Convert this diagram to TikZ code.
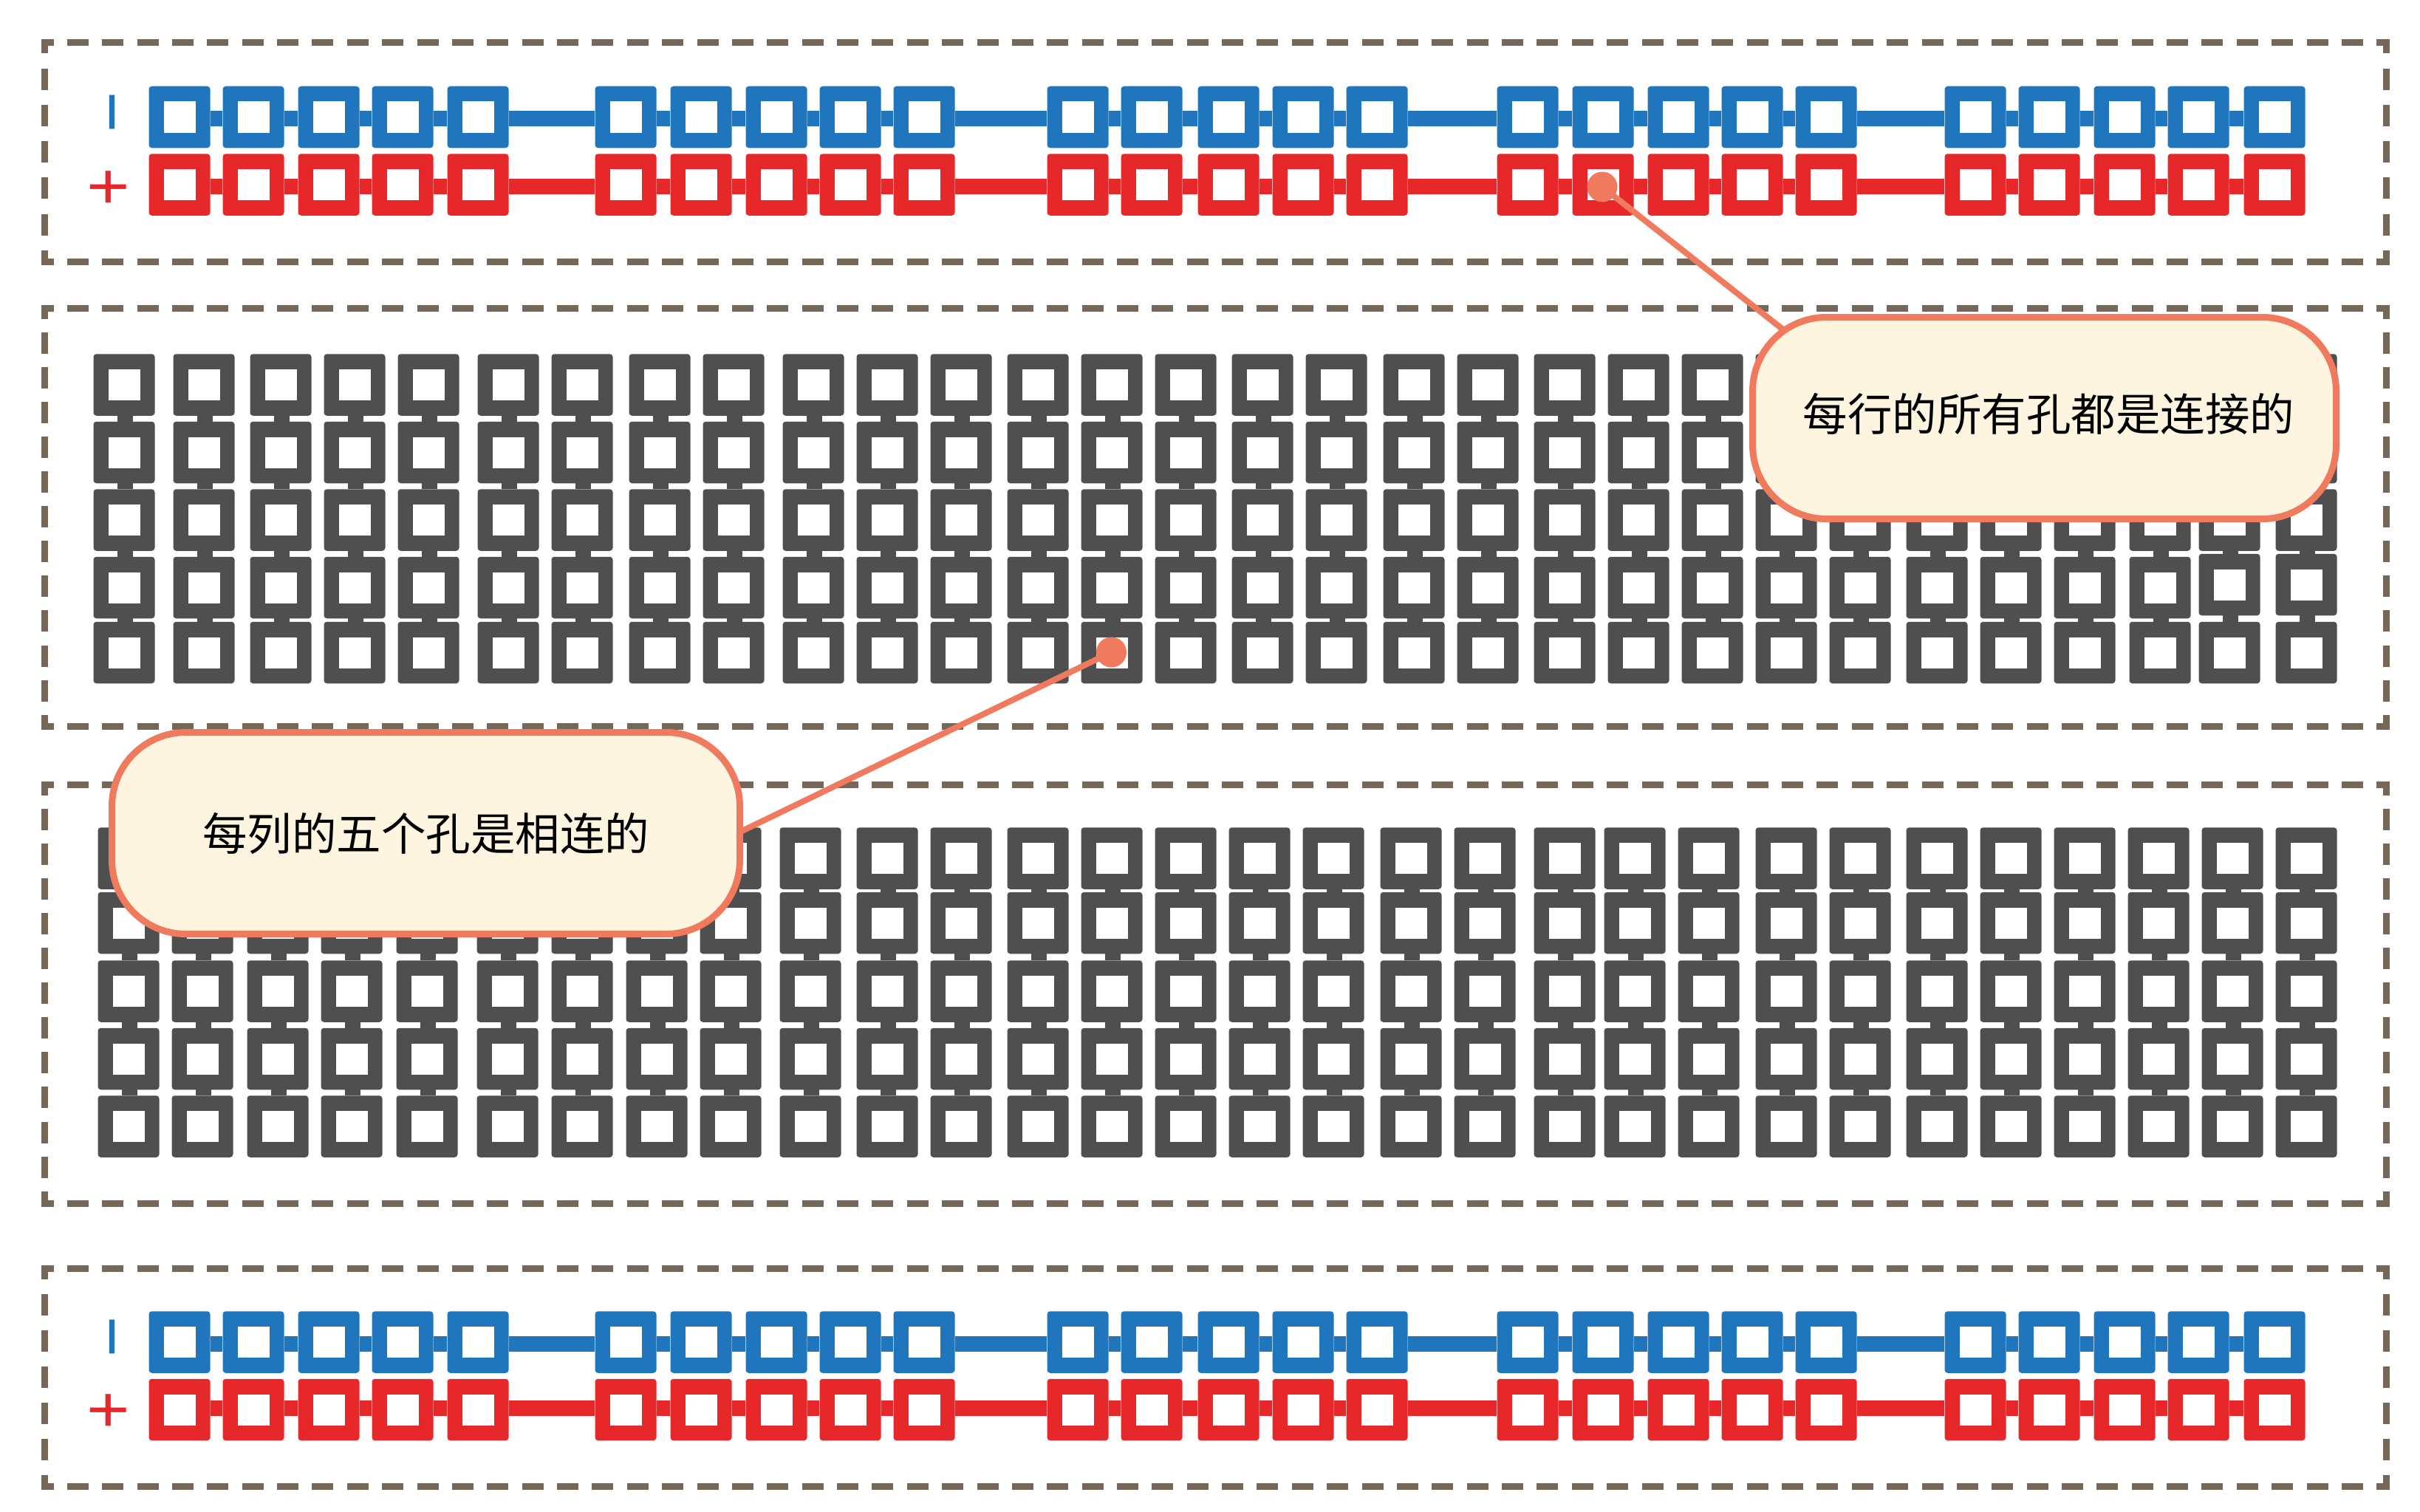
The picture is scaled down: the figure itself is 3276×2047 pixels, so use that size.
\documentclass[tikz,border=0pt]{standalone}
\usepackage{fontspec}
\newfontfamily\cjk{Noto Sans CJK SC}
\newfontfamily\labfont{Liberation Sans}
\definecolor{railblue}{HTML}{1F76BD}
\definecolor{railred}{HTML}{E6282B}
\definecolor{holegray}{HTML}{4F4F4F}
\definecolor{framebrown}{HTML}{756858}
\definecolor{calloutline}{HTML}{F07A5E}
\definecolor{calloutfill}{HTML}{FDF5DF}
\tikzset{
  hole/.style={draw=none,fill=#1,rectangle,rounded corners=4pt,inner sep=0pt,
    minimum width=83pt,minimum height=83.5pt,
    path picture={\fill[white,sharp corners]
      ([xshift=-21.5pt,yshift=-21pt]path picture bounding box.center) rectangle
      ([xshift=21.5pt,yshift=21pt]path picture bounding box.center);}},
  railwire/.style={draw=#1,line width=21pt},
  gridwire/.style={draw=holegray,line width=21pt,transform canvas={xshift=1.5pt}},
  framedash/.style={draw=framebrown,line width=9pt},
  leader/.style={draw=calloutline,line width=8pt},
  dotmark/.style={circle,fill=calloutline,draw=none,minimum size=41pt,inner sep=0pt},
  callout/.style={rectangle,draw=calloutline,fill=calloutfill,line width=9pt,rounded corners=100pt,
    minimum height=273pt,inner sep=0pt,text=black,
    font=\cjk\fontsize{60.5pt}{72pt}\selectfont},
  pluslabel/.style={text=railred,inner sep=0pt,xscale=1.14,font=\labfont\fontsize{88pt}{100pt}\selectfont},
  barlabel/.style={text=railblue,inner sep=0pt,xscale=1.8,font=\labfont\fontsize{49pt}{60pt}\selectfont}
}
\newcommand{\hframe}[3]{% y x1 x2
  \draw[framedash,dash pattern=on 29pt off 18.37pt,dash phase=12pt] (#2,#1) -- (#3,#1);}
\newcommand{\vframe}[4]{% x y1 y2 gap
  \draw[framedash,dash pattern=on 29pt off #4pt,dash phase=10pt] (#1,#2) -- (#1,#3);}
\newcommand{\dashedbox}[3]{% ytop ybottom gap
  \hframe{#1}{55.5}{3234.5}\hframe{#2}{55.5}{3234.5}
  \vframe{60}{#1-4.5}{#2+4.5}{#3}\vframe{3230}{#1-4.5}{#2+4.5}{#3}}
\newcommand{\railrow}[4]{% name colour y wire-offset
  \foreach \x [count=\i] in {243,343,445,545,647,847,949,1051,1151,1251,1459,1559,1663,1764,1864,2068,2170,2272,2372,2472,2674,2774,2876,2976,3079}
    \node[hole=#2] (#1-\i) at (\x,#3) {};
  \foreach \i in {1,...,24}{
    \pgfmathtruncatemacro\j{\i+1}
    \draw[railwire=#2,transform canvas={yshift=#4pt}] (#1-\i) -- (#1-\j);
  }}
\newcommand{\gridblock}[4]{% name columns rows shiftflag
  \foreach \x [count=\c] in {#2}{
    \foreach \y [count=\r] in {#3}{
      \pgfmathsetmacro\yy{\y-#4*and(\r==4,\c>28)}
      \node[hole=holegray] (#1-\r-\c) at (\x,\yy) {};
    }
    \foreach \r in {1,2,3,4}{
      \pgfmathtruncatemacro\s{\r+1}
      \draw[gridwire] (#1-\r-\c) -- (#1-\s-\c);
    }
  }}
\begin{document}
\begin{tikzpicture}[x=1pt,y=-1pt]
\useasboundingbox (0,0) rectangle (3276,2047);
\fill[white] (0,0) rectangle (3276,2047);
% dashed frames
\dashedbox{58}{354}{20.2}
\dashedbox{417}{983}{18.1}
\dashedbox{1062}{1629}{18.1}
\dashedbox{1717}{2012}{20}
% power rails
\railrow{topblue}{railblue}{158.5}{-2}
\railrow{topred}{railred}{250}{-2.5}
\railrow{botblue}{railblue}{1817}{-2}
\railrow{botred}{railred}{1908.5}{2}
% rail labels
\node[barlabel] (barone) at (152,152) {|};
\node[pluslabel] (plusone) at (147,257) {+};
\node[barlabel] (bartwo) at (152,1810) {|};
\node[pluslabel] (plustwo) at (147,1913) {+};
% hole grids
\gridblock{up}{168,276,380,480,580,688,788,893,993,1101,1201,1301,1405,1505,1605,1709,1809,1914,2014,2118,2218,2318,2418,2518,2622,2722,2822,2924,3018,3122}{521,612.5,704,795.5,883.5}{4}
\gridblock{low}{174,274,376,476,578,687,788,889,989,1097,1201,1301,1405,1505,1605,1705,1805,1910,2010,2118,2213,2313,2418,2518,2622,2722,2822,2922,3022,3122}{1162,1249.5,1342,1433.5,1525}{0}
% callouts
\node[dotmark] (dotrow) at (2169,253) {};
\node[dotmark] (dotcol) at (1504.5,883) {};
\coordinate (leadrow) at (2425,455);
\coordinate (leadcol) at (990,1132);
\draw[leader] (dotrow.center) -- (leadrow);
\draw[leader] (dotcol.center) -- (leadcol);
\node[callout,minimum width=790pt] (callrow) at (2767.5,566) {\raisebox{6pt}[\height][\depth]{\hspace*{12pt}每行的所有孔都是连接的}};
\node[callout,minimum width=850pt] (callcol) at (576.5,1128) {每列的五个孔是相连的};
\end{tikzpicture}
\end{document}
